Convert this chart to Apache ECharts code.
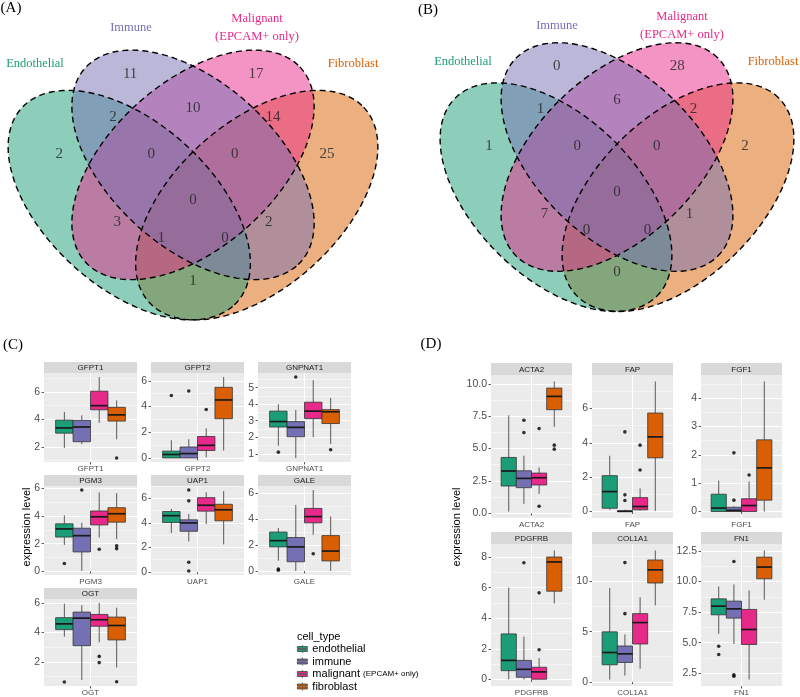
<!DOCTYPE html>
<html><head><meta charset="utf-8">
<script src="https://cdn.jsdelivr.net/npm/echarts@6/dist/echarts.min.js"></script>
<style>html,body{margin:0;padding:0;background:#fff}#c{width:800px;height:697px}</style>
</head><body><div id="c"></div>
<script>
// ================= DATA =================
// Venn regions: E=Endothelial, I=Immune, M=Malignant, F=Fibroblast
const vennSetNames = ['Endothelial', 'Immune', 'Malignant\n(EPCAM+ only)', 'Fibroblast'];
const vennRegions = ['E','I','M','F','EI','IM','MF','EIM','IMF','EIMF','EM','IF','EMF','EIF','EF'];
const vennCountsA = [2, 11, 17, 25, 2, 10, 14, 0, 0, 0, 3, 2, 1, 0, 1];
const vennCountsB = [1, 0, 28, 2, 1, 6, 2, 0, 0, 0, 7, 1, 0, 0, 0];

// Boxplots: [min, Q1, median, Q3, max] for endothelial, immune, malignant, fibroblast
const cellTypes = ['endothelial', 'immune', 'malignant', 'fibroblast'];
// outliers: [cellTypeIndex, value]
const GFPT1 = [[1.93,3.0,3.38,3.95,4.55],[2.2,2.38,3.45,3.93,4.3],[3.75,4.7,5.0,6.05,7.08],[2.55,3.88,4.33,4.88,5.38]];
const GFPT1_out = [[3,1.2]];
const GFPT2 = [[0,0,0.27,0.53,1.38],[0,0,0.34,0.85,1.46],[0.05,0.58,0.98,1.67,2.3],[0.58,3.05,4.51,5.49,6.29]];
const GFPT2_out = [[0,4.85],[1,5.2],[2,3.77]];
const GNPNAT1 = [[1.49,2.62,2.95,3.58,4.0],[0.75,2.03,2.6,2.95,3.65],[2.0,3.13,3.58,4.12,5.45],[1.6,2.83,3.54,3.67,4.38]];
const GNPNAT1_out = [[0,1.1],[1,5.64],[3,1.25]];
const PGM3 = [[1.91,2.48,3.07,3.44,4.05],[0.02,1.4,2.58,3.12,3.51],[2.45,3.36,3.95,4.37,5.72],[2.33,3.56,4.17,4.61,5.67]];
const PGM3_out = [[0,0.56],[1,5.89],[2,1.6],[3,1.84],[3,1.64]];
const UAP1 = [[3.18,4.03,4.59,4.93,5.15],[2.48,3.32,4.0,4.25,4.73],[3.89,4.96,5.44,6.06,6.5],[2.25,4.17,5.07,5.52,6.6]];
const UAP1_out = [[1,6.68],[1,5.8],[1,0.79],[1,0.08]];
const GALE = [[0.79,1.85,2.33,2.99,3.31],[0,0.71,1.85,2.57,5.08],[2.78,3.7,4.18,4.81,6.22],[0,0.77,1.53,2.72,4.18]];
const GALE_out = [[0,0.15],[0,0.05],[2,1.32]];
const OGT = [[3.71,4.19,4.58,5.0,5.95],[0.77,3.1,4.97,5.38,5.84],[3.33,4.42,4.86,5.22,6.0],[1.61,3.49,4.47,5.04,5.68]];
const OGT_out = [[0,0.63],[2,2.37],[2,1.95],[3,0.65]];

const ACTA2 = [[0.13,2.1,3.26,4.31,7.56],[0.72,1.97,2.69,3.28,4.44],[1.49,2.18,2.74,3.1,3.54],[6.67,8.0,9.03,9.67,10.18]];
const ACTA2_out = [[1,7.18],[1,6.23],[2,6.54],[2,0.54],[3,5.26],[3,4.95]];
const FAP = [[0.1,0.19,1.16,2.09,3.25],[0,0,0.01,0.04,0.1],[0.04,0.1,0.29,0.81,1.35],[0.04,3.13,4.35,5.74,7.58]];
const FAP_out = [[1,4.64],[1,0.97],[1,0.64],[2,3.87],[2,2.42]];
const FGF1 = [[0,0,0.12,0.61,1.09],[0,0,0.04,0.15,0.18],[0,0,0.21,0.45,1.06],[0,0.4,1.54,2.53,4.59]];
const FGF1_out = [[1,2.07],[1,0.4],[2,1.29]];
const PDGFRB = [[0.02,0.58,1.25,2.98,6.01],[0,0.15,0.67,1.25,2.81],[0,0.02,0.5,0.8,1.41],[4.97,5.77,7.68,8.0,8.43]];
const PDGFRB_out = [[1,7.63],[2,5.66],[2,1.95]];
const COL1A1 = [[0.23,1.7,2.92,4.98,9.34],[0.62,1.93,2.79,3.57,4.72],[1.31,3.77,5.9,6.79,8.43],[7.61,9.84,11.15,12.13,13.08]];
const COL1A1_out = [[1,11.87],[1,6.79]];
const FN1 = [[5.72,7.28,7.99,8.59,9.6],[4.9,7.01,7.77,8.4,9.77],[1.98,4.85,6.08,7.72,9.28],[8.51,10.23,11.19,12.0,12.55]];
const FN1_out = [[0,4.71],[0,4.03],[1,11.65],[1,2.36],[1,2.25]];

// ================= LAYOUT / STYLE =================
const SERIF = 'Liberation Serif';
const SANS = 'Liberation Sans';
const SET_COLORS = ['#1B9E77', '#7570B3', '#E7298A', '#D95F02'];
// ellipse geometry in unit square (VennDiagram quad layout): cx, cy, a, b, angle(deg)
const ELLIPSES = [[0.35,0.47,0.35,0.2,-45],[0.5,0.57,0.35,0.2,-45],[0.5,0.57,0.35,0.2,45],[0.65,0.47,0.35,0.2,45]];
const FILL_ORDER = [3, 0, 2, 1];
const VENN_POS = [[0.185,0.597],[0.352,0.796],[0.648,0.796],[0.815,0.597],
  [0.312,0.689],[0.5,0.711],[0.688,0.689],[0.402,0.597],[0.598,0.597],[0.5,0.483],
  [0.322,0.429],[0.678,0.429],[0.425,0.389],[0.575,0.389],[0.5,0.282]];

const facetsC = [['GFPT1',GFPT1,GFPT1_out,2],['GFPT2',GFPT2,GFPT2_out,2],['GNPNAT1',GNPNAT1,GNPNAT1_out,1],
  ['PGM3',PGM3,PGM3_out,2],['UAP1',UAP1,UAP1_out,2],['GALE',GALE,GALE_out,2],['OGT',OGT,OGT_out,2]];
const facetsD = [['ACTA2',ACTA2,ACTA2_out,2.5],['FAP',FAP,FAP_out,2],['FGF1',FGF1,FGF1_out,1],
  ['PDGFRB',PDGFRB,PDGFRB_out,2],['COL1A1',COL1A1,COL1A1_out,5],['FN1',FN1,FN1_out,2.5]];
const layC = {cols:[44,151,258], width:93, rows:[373,486,599], height:89, strip:11};
const layD = {cols:[491,592,701], width:81, rows:[375,544], height:143, strip:12};

// ================= BUILD =================
const grid = [], xAxis = [], yAxis = [], series = [], graphics = [];

function ellipsePoints(e, api) {
  const [cx, cy, a, b, ang] = e; const r = ang * Math.PI / 180; const pts = [];
  for (let i = 0; i < 120; i++) {
    const t = i / 120 * 2 * Math.PI;
    const x = cx + a * Math.cos(t) * Math.cos(r) - b * Math.sin(t) * Math.sin(r);
    const y = cy + a * Math.cos(t) * Math.sin(r) + b * Math.sin(t) * Math.cos(r);
    pts.push(api.coord([x, y]));
  }
  return pts;
}

function addVenn(gi, rect, counts) {
  grid.push(Object.assign({show:false}, rect));
  xAxis.push({gridIndex:gi, type:'value', min:0.05, max:0.95, show:false});
  yAxis.push({gridIndex:gi, type:'value', min:0.15, max:0.9, show:false});
  series.push({type:'custom', xAxisIndex:gi, yAxisIndex:gi, silent:true, z:1,
    data: FILL_ORDER.map(k => [k]),
    renderItem: (p, api) => {
      const k = api.value(0);
      return {type:'polygon', shape:{points: ellipsePoints(ELLIPSES[k], api)},
        style:{fill: SET_COLORS[k], opacity:0.5}};
    }});
  series.push({type:'custom', xAxisIndex:gi, yAxisIndex:gi, silent:true, z:2,
    data: [[0],[1],[2],[3]],
    renderItem: (p, api) => {
      const k = api.value(0);
      return {type:'polygon', shape:{points: ellipsePoints(ELLIPSES[k], api)},
        style:{fill:'none', stroke:'#000', lineWidth:1.4, lineDash:[6,4]}};
    }});
  series.push({type:'scatter', xAxisIndex:gi, yAxisIndex:gi, silent:true, z:3,
    symbolSize:1, itemStyle:{color:'rgba(0,0,0,0)'},
    data: vennRegions.map((r, i) => [VENN_POS[i][0], VENN_POS[i][1], counts[i]]),
    label:{show:true, position:'inside', formatter: p => String(p.value[2]),
      fontFamily:SERIF, fontSize:15, color:'#222'}});
}

addVenn(0, {left:1.75, top:32, width:382.5, height:302}, vennCountsA);
addVenn(1, {left:434, top:24.7, width:370, height:300.75}, vennCountsB);

function boxRender(p, api) {
  const g = api.value(0);
  const x0 = 0.55 + g * 0.225, x1 = x0 + 0.225, xm = x0 + 0.1125;
  const pMin = api.coord([xm, api.value(1)]);
  const pQ1 = api.coord([x0, api.value(2)]);
  const pMed = api.coord([x0, api.value(3)]);
  const pQ3 = api.coord([x0, api.value(4)]);
  const pMax = api.coord([xm, api.value(5)]);
  const pR = api.coord([x1, api.value(3)]);
  const color = api.visual('color');
  return {type:'group', children:[
    {type:'line', shape:{x1:pMin[0], y1:pMin[1], x2:pMin[0], y2:pQ1[1]}, style:{stroke:'#333', lineWidth:0.8}},
    {type:'line', shape:{x1:pMax[0], y1:pMax[1], x2:pMax[0], y2:pQ3[1]}, style:{stroke:'#333', lineWidth:0.8}},
    {type:'rect', shape:{x:pQ3[0], y:pQ3[1], width:pR[0]-pQ3[0], height:Math.max(pQ1[1]-pQ3[1], 0.5)},
      style:{fill:color, stroke:'#333', lineWidth:0.8}},
    {type:'line', shape:{x1:pMed[0], y1:pMed[1], x2:pR[0], y2:pMed[1]}, style:{stroke:'#1a1a1a', lineWidth:1.7}}
  ]};
}

function addFacet(f, left, top, width, height, strip) {
  const [name, stats, out, step] = f;
  const gi = grid.length;
  let lo = Infinity, hi = -Infinity;
  stats.forEach(s => { lo = Math.min(lo, s[0]); hi = Math.max(hi, s[4]); });
  out.forEach(o => { lo = Math.min(lo, o[1]); hi = Math.max(hi, o[1]); });
  const pad = (hi - lo) * 0.05; const ymin = lo - pad, ymax = hi + pad;
  const ticks = [];
  for (let v = Math.ceil(ymin / step) * step; v <= ymax + 1e-9; v += step) ticks.push(+v.toFixed(4));
  const fmt = v => step === 2.5 ? Number(v).toFixed(1) : String(Math.round(v));
  grid.push({left, top, width, height, show:true, backgroundColor:'#EBEBEB', borderWidth:0, borderColor:'rgba(0,0,0,0)'});
  xAxis.push({gridIndex:gi, type:'value', min:0.4, max:1.6, interval:0.6,
    axisLine:{show:false},
    axisTick:{show:true, customValues:[1], length:2.5, lineStyle:{color:'#333', width:0.8}},
    axisLabel:{customValues:[1], formatter:() => name, fontSize:8, color:'#4D4D4D', fontFamily:SANS, margin:3},
    splitLine:{show:true, lineStyle:{color:'#fff', width:1}}});
  yAxis.push({gridIndex:gi, type:'value', min:ymin, max:ymax, minInterval:step, maxInterval:step,
    axisLine:{show:false},
    axisTick:{show:true, customValues:ticks, length:2.5, lineStyle:{color:'#333', width:0.8}},
    axisLabel:{customValues:ticks, formatter:fmt, fontSize:10.5, color:'#4D4D4D', fontFamily:SANS, margin:4},
    splitLine:{show:true, lineStyle:{color:'#fff', width:1}},
    minorTick:{show:false, splitNumber:2},
    minorSplitLine:{show:true, lineStyle:{color:'#fff', width:0.5}}});
  cellTypes.forEach((ct, k) => {
    series.push({type:'custom', name:ct, xAxisIndex:gi, yAxisIndex:gi, z:3,
      itemStyle:{color:SET_COLORS[k]}, data:[[k].concat(stats[k])], renderItem:boxRender});
  });
  series.push({type:'scatter', name:'outlier', xAxisIndex:gi, yAxisIndex:gi, z:4, silent:true,
    symbolSize:3.6, itemStyle:{color:'#000'},
    data: out.map(o => [0.6625 + o[0] * 0.225, o[1]])});
  graphics.push({type:'rect', shape:{x:left, y:top - strip, width, height:strip}, style:{fill:'#D9D9D9'}, silent:true});
  graphics.push({type:'text', x:left + width / 2, y:top - strip / 2 + 0.5,
    style:{text:name, fontSize:8, fill:'#1A1A1A', fontFamily:SANS, align:'center', verticalAlign:'middle'}});
}

facetsC.forEach((f, i) => addFacet(f, layC.cols[i % 3], layC.rows[Math.floor(i / 3)], layC.width, layC.height, layC.strip));
facetsD.forEach((f, i) => addFacet(f, layD.cols[i % 3], layD.rows[Math.floor(i / 3)], layD.width, layD.height, layD.strip));

// Venn set labels & panel letters
function txt(text, x, y, size, color, family, extra) {
  graphics.push(Object.assign({type:'text', x, y, silent:true,
    style:Object.assign({text, fontSize:size, fill:color, fontFamily:family, align:'center', verticalAlign:'middle'}, extra || {})}));
}
txt('(A)', 11, 8, 15, '#000', SERIF);
txt('(B)', 428, 10, 15, '#000', SERIF);
txt('(C)', 13, 345, 15, '#000', SERIF);
txt('(D)', 431, 344, 15, '#000', SERIF);
const setLabelPos = {A:[[35,64],[131,28],[257,28],[353,64]], B:[[463,62],[557,26],[682,26],[773,62]]};
['A','B'].forEach(pn => vennSetNames.forEach((n, k) => {
  txt(n, setLabelPos[pn][k][0], setLabelPos[pn][k][1], 12.5, SET_COLORS[k], SERIF, {lineHeight:18});
}));
// axis titles
graphics.push({type:'text', x:27, y:527, rotation:Math.PI / 2, silent:true,
  style:{text:'expression level', fontSize:11, fill:'#000', fontFamily:SANS, align:'center', verticalAlign:'middle'}});
graphics.push({type:'text', x:457, y:527, rotation:Math.PI / 2, silent:true,
  style:{text:'expression level', fontSize:11, fill:'#000', fontFamily:SANS, align:'center', verticalAlign:'middle'}});
graphics.push({type:'text', x:297, y:637, silent:true,
  style:{text:'cell_type', fontSize:11, fill:'#000', fontFamily:SANS, align:'left', verticalAlign:'middle'}});

const BOX_ICON = 'path://M0,1.5 L10,1.5 L10,3.6 L0,3.6 Z M0,4.4 L10,4.4 L10,6.5 L0,6.5 Z M5,0 L5,1.5 M5,6.5 L5,8';

const option = {
  animation:false,
  backgroundColor:'#fff',
  grid, xAxis, yAxis, series,
  legend:{
    orient:'vertical', left:297, top:643.5, padding:0, height:54,
    itemWidth:10, itemHeight:8, itemGap:1.5,
    data: cellTypes.map(n => ({name:n, icon:BOX_ICON})),
    itemStyle:{borderColor:'#333', borderWidth:0.7},
    textStyle:{fontSize:11, color:'#000', fontFamily:SANS, lineHeight:11,
      rich:{s:{fontSize:8, color:'#000', fontFamily:SANS, lineHeight:11}}},
    formatter: n => n === 'malignant' ? 'malignant {s|(EPCAM+ only)}' : n
  },
  graphic:{elements:graphics}
};
const chart = echarts.init(document.getElementById('c'), null, {renderer:'canvas'});
chart.setOption(option);
</script></body></html>
